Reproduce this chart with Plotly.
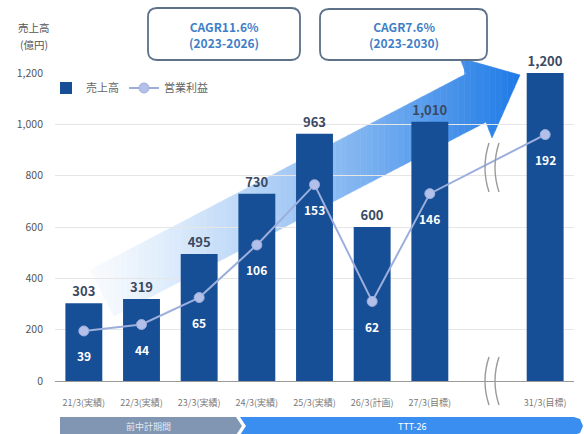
import plotly.graph_objects as go

W, H = 584, 434

# ---------------- data ----------------
categories = ["21/3(実績)", "22/3(実績)", "23/3(実績)", "24/3(実績)", "25/3(実績)",
              "26/3(計画)", "27/3(目標)", "31/3(目標)"]
sales = [303, 319, 495, 730, 963, 600, 1010, 1200]          # 売上高 (億円)
op_profit = [39, 44, 65, 106, 153, 62, 146, 192]             # 営業利益
y_ticks = [0, 200, 400, 600, 800, 1000, 1200]
cagr_labels = ["CAGR11.6%<br>(2023-2026)", "CAGR7.6%<br>(2023-2030)"]
period_labels = ["前中計期間", "TTT-26"]
legend_names = ["売上高", "営業利益"]
y_title_lines = ["売上高", "(億円)"]

BREAK = " "   # spacer category for the axis break
axis_cats = categories[:7] + [BREAK] + categories[7:]
bar_vals = sales[:7] + [None] + sales[7:]

# ---------------- geometry helpers ----------------
L, R, T, B = 55, 574, 73, 381
FONT = "Noto Sans CJK JP"


def px_(px):
    return px / W


def py_(py):
    return 1 - py / H


def path_paper(points):
    return "M " + " L ".join(f"{px_(x):.5f},{py_(y):.5f}" for x, y in points) + " Z"


def clip(poly, xc, keep_right):
    out = []
    n = len(poly)
    for i in range(n):
        a = poly[i]
        b = poly[(i + 1) % n]
        ina = a[0] >= xc if keep_right else a[0] <= xc
        inb = b[0] >= xc if keep_right else b[0] <= xc
        if ina:
            out.append(a)
        if ina != inb:
            t = (xc - a[0]) / (b[0] - a[0])
            out.append((xc, a[1] + t * (b[1] - a[1])))
    return out


fig = go.Figure()

# bars
fig.add_trace(go.Bar(
    x=axis_cats, y=bar_vals, name=legend_names[0],
    marker=dict(color="#174f97", line=dict(width=0)),
    width=0.64,
    texttemplate="%{y:,}", textposition="outside",
    textfont=dict(family=FONT, size=13, color="#3a4961", weight="bold"),
    cliponaxis=False,
))

# operating profit line (secondary hidden axis)
fig.add_trace(go.Scatter(
    x=categories, y=op_profit, name=legend_names[1], yaxis="y2",
    mode="lines+markers",
    line=dict(color="#9cafdc", width=2),
    marker=dict(size=10, color="#b2c0ea", line=dict(color="#9cafdc", width=1)),
    cliponaxis=False,
))

shapes = []
annotations = []

# gradient arrow (strips)
arrow = [(90, 270), (466, 74), (460, 58), (520, 75), (492, 138), (486, 122), (114, 316)]
x0a, x1a = 90, 520
N = 70
c0 = (248, 251, 254)
c1 = (30, 122, 230)
for i in range(N):
    a = x0a + (x1a - x0a) * i / N
    b = x0a + (x1a - x0a) * (i + 1) / N
    poly = clip(clip(arrow, a, True), b, False)
    if len(poly) < 3:
        continue
    t = ((a + b) / 2 - x0a) / (x1a - x0a)
    t = t ** 1.25
    col = "rgb(%d,%d,%d)" % tuple(round(c0[k] + (c1[k] - c0[k]) * t) for k in range(3))
    shapes.append(dict(type="path", xref="paper", yref="paper",
                       path=path_paper(poly),
                       fillcolor=col, line=dict(color=col, width=0.6), layer="below"))

# axis break marks
for (ytop, ybot) in [(143, 192), (357, 405)]:
    for xo in (486, 496):
        ym = (ytop + ybot) / 2
        p = (f"M {px_(xo + 3):.5f},{py_(ytop):.5f} Q {px_(xo - 5):.5f},{py_(ym):.5f} "
             f"{px_(xo + 3):.5f},{py_(ybot):.5f}")
        shapes.append(dict(type="path", xref="paper", yref="paper", path=p,
                           line=dict(color="#9a9a9a", width=1.4), layer="above"))


# CAGR boxes
def rounded_box(x0, y0, x1, y1, r):
    return (f"M {px_(x0 + r):.5f},{py_(y0):.5f} L {px_(x1 - r):.5f},{py_(y0):.5f} "
            f"Q {px_(x1):.5f},{py_(y0):.5f} {px_(x1):.5f},{py_(y0 + r):.5f} "
            f"L {px_(x1):.5f},{py_(y1 - r):.5f} "
            f"Q {px_(x1):.5f},{py_(y1):.5f} {px_(x1 - r):.5f},{py_(y1):.5f} "
            f"L {px_(x0 + r):.5f},{py_(y1):.5f} "
            f"Q {px_(x0):.5f},{py_(y1):.5f} {px_(x0):.5f},{py_(y1 - r):.5f} "
            f"L {px_(x0):.5f},{py_(y0 + r):.5f} "
            f"Q {px_(x0):.5f},{py_(y0):.5f} {px_(x0 + r):.5f},{py_(y0):.5f} Z")


def note(xp, yp, text, size, color, bold=False):
    f = dict(family=FONT, size=size, color=color)
    if bold:
        f["weight"] = "bold"
    return dict(x=px_(xp), y=py_(yp), xref="paper", yref="paper", text=text, showarrow=False,
                xanchor="center", yanchor="middle", font=f)


boxes = [(148, 8, 300, 60), (320, 9, 487, 60)]
for (bx0, by0, bx1, by1), lab in zip(boxes, cagr_labels):
    shapes.append(dict(type="path", xref="paper", yref="paper", path=rounded_box(bx0, by0, bx1, by1, 9),
                       fillcolor="white", line=dict(color="#5d7189", width=1.8), layer="above"))
    annotations.append(note((bx0 + bx1) / 2, (by0 + by1) / 2, lab, 12, "#3f7fc8", bold=True))

# bottom period bands
shapes.append(dict(type="path", xref="paper", yref="paper",
                   path=path_paper([(60, 417), (236, 417), (242, 426), (236, 435), (60, 435)]),
                   fillcolor="#8196b3", line=dict(width=0), layer="above"))
shapes.append(dict(type="path", xref="paper", yref="paper",
                   path=path_paper([(240, 417), (574, 417), (580, 419), (583, 426), (580, 433),
                                    (574, 435), (240, 435), (246, 426)]),
                   fillcolor="#3a8ef0", line=dict(width=0), layer="above"))
annotations.append(note(148, 426, period_labels[0], 9, "#e4eaf3"))
annotations.append(note(412, 426, period_labels[1], 9, "white"))

# operating-profit value labels
for c, v in zip(categories, op_profit):
    annotations.append(dict(x=c, y=v, xref="x", yref="y2", yshift=-25, text=str(v), showarrow=False,
                            font=dict(family=FONT, size=12, color="white", weight="bold")))

# y-axis title (two lines)
annotations.append(note(34, 28, y_title_lines[0], 10.5, "#555555"))
annotations.append(note(34, 45, y_title_lines[1], 10.5, "#555555"))

fig.update_layout(
    width=W, height=H,
    margin=dict(l=0, r=0, t=0, b=0),
    paper_bgcolor="white", plot_bgcolor="rgba(0,0,0,0)",
    font=dict(family=FONT, color="#555555"),
    showlegend=True,
    legend=dict(orientation="h", x=px_(46), y=py_(88), xanchor="left", yanchor="middle",
                font=dict(family=FONT, size=11, color="#666666"), bgcolor="rgba(0,0,0,0)",
                itemwidth=30, tracegroupgap=0),
    xaxis=dict(domain=[px_(L), px_(R)], type="category", categoryorder="array", categoryarray=axis_cats,
               range=[-0.5, len(axis_cats) - 0.5], showgrid=False, showline=True, linecolor="#9a9a9a",
               linewidth=1, ticks="", tickfont=dict(family=FONT, size=9, color="#7a7a7a"),
               ticklabelstandoff=13, automargin=False, fixedrange=True),
    yaxis=dict(domain=[py_(B), py_(T)], range=[0, 1200], tickvals=y_ticks, tickformat=",",
               showgrid=True, gridcolor="#e6e6e6", gridwidth=1, zeroline=False, showline=False,
               ticks="", tickfont=dict(family=FONT, size=10.5, color="#555555"),
               ticklabelstandoff=11, automargin=False),
    yaxis2=dict(overlaying="y", range=[0, 240], visible=False),
    bargap=0.36,
    shapes=shapes,
    annotations=annotations,
)

fig.write_html("out.html")
